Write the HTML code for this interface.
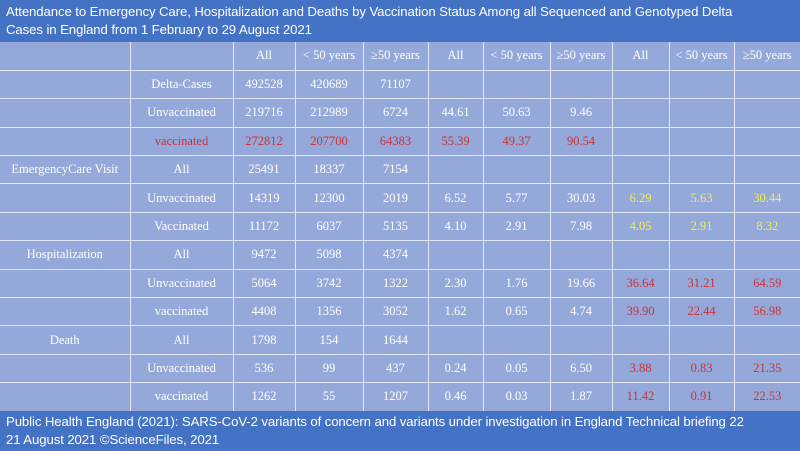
<!DOCTYPE html>
<html><head><meta charset="utf-8"><style>
body{margin:0;width:800px;height:451px;overflow:hidden;background:#94a9d9;font-family:"Liberation Serif",serif}
#title{position:absolute;left:0;top:0;width:800px;height:42px;background:#4472c4;color:#fff;font-family:"Liberation Sans",sans-serif;font-size:13.2px;line-height:18px;padding:3px 0 0 6px;box-sizing:border-box;white-space:nowrap;letter-spacing:-0.1px}
#foot{position:absolute;left:0;top:411px;width:800px;height:40px;background:#4472c4;color:#fff;font-family:"Liberation Sans",sans-serif;font-size:13.2px;line-height:18px;padding:2px 0 0 6px;box-sizing:border-box;white-space:nowrap;letter-spacing:-0.1px}
table{position:absolute;left:0;top:42px;width:800px;border-collapse:collapse;table-layout:fixed;background:#94a9d9}
td{height:28.4px;padding:0;border:1px solid #dfe6f5;color:#fff;font-size:12.5px;text-align:center;white-space:nowrap;box-sizing:border-box}
tr:first-child td{border-top:none}
td:first-child{border-left:none}td:last-child{border-right:none}
.r{color:#c8343a}.y{color:#f0f04a}
</style></head><body>
<div id="title">Attendance to Emergency Care, Hospitalization and Deaths by Vaccination Status Among all Sequenced and Genotyped Delta<br>Cases in England from 1 February to 29 August 2021</div>
<table>
<colgroup><col style="width:130px"><col style="width:103px"><col style="width:62px"><col style="width:68px"><col style="width:65px"><col style="width:55px"><col style="width:67px"><col style="width:62px"><col style="width:57px"><col style="width:65px"><col style="width:66px"></colgroup>
<tr><td></td><td></td><td>All</td><td>&lt; 50 years</td><td>≥50 years</td><td>All</td><td>&lt; 50 years</td><td>≥50 years</td><td>All</td><td>&lt; 50 years</td><td>≥50 years</td></tr>
<tr><td></td><td>Delta-Cases</td><td>492528</td><td>420689</td><td>71107</td><td></td><td></td><td></td><td></td><td></td><td></td></tr>
<tr><td></td><td>Unvaccinated</td><td>219716</td><td>212989</td><td>6724</td><td>44.61</td><td>50.63</td><td>9.46</td><td></td><td></td><td></td></tr>
<tr><td></td><td class="r">vaccinated</td><td class="r">272812</td><td class="r">207700</td><td class="r">64383</td><td class="r">55.39</td><td class="r">49.37</td><td class="r">90.54</td><td></td><td></td><td></td></tr>
<tr><td>EmergencyCare Visit</td><td>All</td><td>25491</td><td>18337</td><td>7154</td><td></td><td></td><td></td><td></td><td></td><td></td></tr>
<tr><td></td><td>Unvaccinated</td><td>14319</td><td>12300</td><td>2019</td><td>6.52</td><td>5.77</td><td>30.03</td><td class="y">6.29</td><td class="y">5.63</td><td class="y">30.44</td></tr>
<tr><td></td><td>Vaccinated</td><td>11172</td><td>6037</td><td>5135</td><td>4.10</td><td>2.91</td><td>7.98</td><td class="y">4.05</td><td class="y">2.91</td><td class="y">8.32</td></tr>
<tr><td>Hospitalization</td><td>All</td><td>9472</td><td>5098</td><td>4374</td><td></td><td></td><td></td><td></td><td></td><td></td></tr>
<tr><td></td><td>Unvaccinated</td><td>5064</td><td>3742</td><td>1322</td><td>2.30</td><td>1.76</td><td>19.66</td><td class="r">36.64</td><td class="r">31.21</td><td class="r">64.59</td></tr>
<tr><td></td><td>vaccinated</td><td>4408</td><td>1356</td><td>3052</td><td>1.62</td><td>0.65</td><td>4.74</td><td class="r">39.90</td><td class="r">22.44</td><td class="r">56.98</td></tr>
<tr><td>Death</td><td>All</td><td>1798</td><td>154</td><td>1644</td><td></td><td></td><td></td><td></td><td></td><td></td></tr>
<tr><td></td><td>Unvaccinated</td><td>536</td><td>99</td><td>437</td><td>0.24</td><td>0.05</td><td>6.50</td><td class="r">3.88</td><td class="r">0.83</td><td class="r">21.35</td></tr>
<tr><td></td><td>vaccinated</td><td>1262</td><td>55</td><td>1207</td><td>0.46</td><td>0.03</td><td>1.87</td><td class="r">11.42</td><td class="r">0.91</td><td class="r">22.53</td></tr>
</table>
<div id="foot">Public Health England (2021): SARS-CoV-2 variants of concern and variants under investigation in England Technical briefing 22<br>21 August 2021 ©ScienceFiles, 2021</div>
</body></html>
